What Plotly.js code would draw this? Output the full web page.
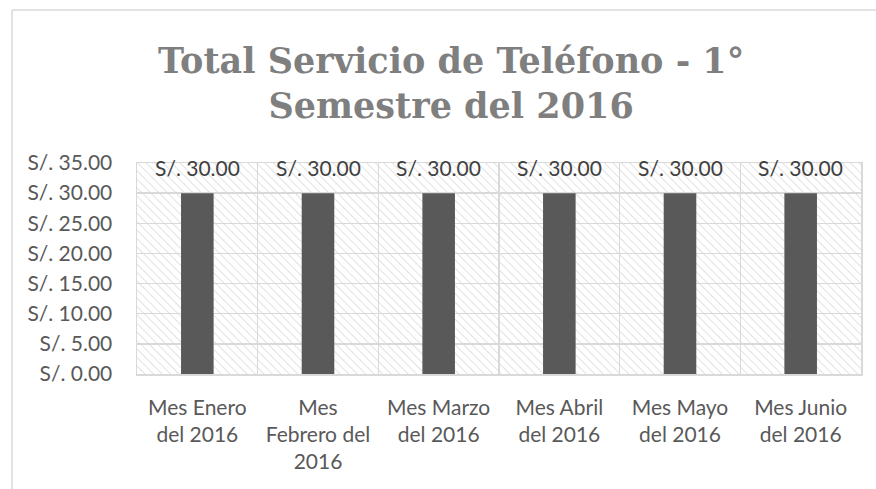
<!DOCTYPE html>
<html>
<head>
<meta charset="utf-8">
<script src="https://cdn.plot.ly/plotly-3.0.1.min.js"></script>
<style>html,body{margin:0;padding:0;background:#fff;}#chart{width:876px;height:489px;}</style>
</head>
<body>
<div id="chart"></div>
<script>
const categories = [
  "Mes Enero<br>del 2016",
  "Mes<br>Febrero del<br>2016",
  "Mes Marzo<br>del 2016",
  "Mes Abril<br>del 2016",
  "Mes Mayo<br>del 2016",
  "Mes Junio<br>del 2016"
];
const totals = [30, 30, 30, 30, 30, 30];
const tickValues = [0, 5, 10, 15, 20, 25, 30, 35];
const tickLabels = tickValues.map(v => "S/. " + v.toFixed(2));
const dataLabels = totals.map(v => "S/. " + v.toFixed(2));

const hatchSvg = '<svg xmlns="http://www.w3.org/2000/svg" width="724" height="211">' +
  '<defs><pattern id="p" width="6" height="6" patternUnits="userSpaceOnUse" patternTransform="rotate(-45)">' +
  '<line x1="0" y1="0" x2="0" y2="6" stroke="#cfcfcf" stroke-width="1.2"/></pattern></defs>' +
  '<rect width="724" height="211" fill="#ffffff"/><rect width="724" height="211" fill="url(#p)"/></svg>';
const hatchUri = "data:image/svg+xml;base64," + btoa(hatchSvg);

const font = "Lato, 'Open Sans', sans-serif";

const trace = {
  type: "bar",
  x: categories,
  y: totals,
  width: 0.27,
  marker: {color: "#595959"},
  hoverinfo: "skip"
};

const annotations = categories.map((c, i) => ({
  x: c, y: totals[i], xref: "x", yref: "y",
  text: dataLabels[i], showarrow: false,
  yanchor: "bottom", yshift: 11,
  font: {family: font, size: 21, color: "#404040"}
}));

const layout = {
  width: 876, height: 489,
  margin: {l: 137, r: 15, t: 163, b: 115},
  paper_bgcolor: "#ffffff",
  plot_bgcolor: "rgba(0,0,0,0)",
  showlegend: false,
  title: {
    text: "Total Servicio de Teléfono - 1°<br>Semestre del 2016",
    font: {family: "'DejaVu Serif', serif", size: 35, color: "#7f7f7f", weight: "bold"},
    x: 0.515, xref: "container", xanchor: "center",
    y: 0.851, yref: "container", yanchor: "top"
  },
  xaxis: {
    type: "category",
    tickson: "boundaries",
    showgrid: true, gridcolor: "#d9d9d9", gridwidth: 1.5,
    showline: true, linecolor: "#d9d9d9", linewidth: 1.5, mirror: true,
    ticks: "", ticklabelstandoff: 14,
    tickfont: {family: font, size: 21, color: "#595959"},
    fixedrange: true
  },
  yaxis: {
    range: [0, 35],
    tickvals: tickValues, ticktext: tickLabels,
    showgrid: true, gridcolor: "#d9d9d9", gridwidth: 1.5,
    showline: true, linecolor: "#d9d9d9", linewidth: 1.5, mirror: true,
    zeroline: false,
    ticks: "", ticklabelstandoff: 19,
    tickfont: {family: font, size: 21, color: "#595959"},
    fixedrange: true
  },
  images: [{
    source: hatchUri, xref: "paper", yref: "paper",
    x: 0, y: 1, sizex: 1, sizey: 1, sizing: "stretch",
    xanchor: "left", yanchor: "top", layer: "below"
  }],
  annotations: annotations,
  shapes: [
    {type: "line", xref: "paper", yref: "paper", x0: -0.1727, x1: 1.1, y0: 1.725, y1: 1.725, line: {color: "#d9d9d9", width: 1.5}},
    {type: "line", xref: "paper", yref: "paper", x0: -0.1727, x1: -0.1727, y0: 1.725, y1: -0.6, line: {color: "#d9d9d9", width: 1.5}}
  ]
};

Plotly.newPlot("chart", [trace], layout, {displayModeBar: false, staticPlot: true});
</script>
</body>
</html>
